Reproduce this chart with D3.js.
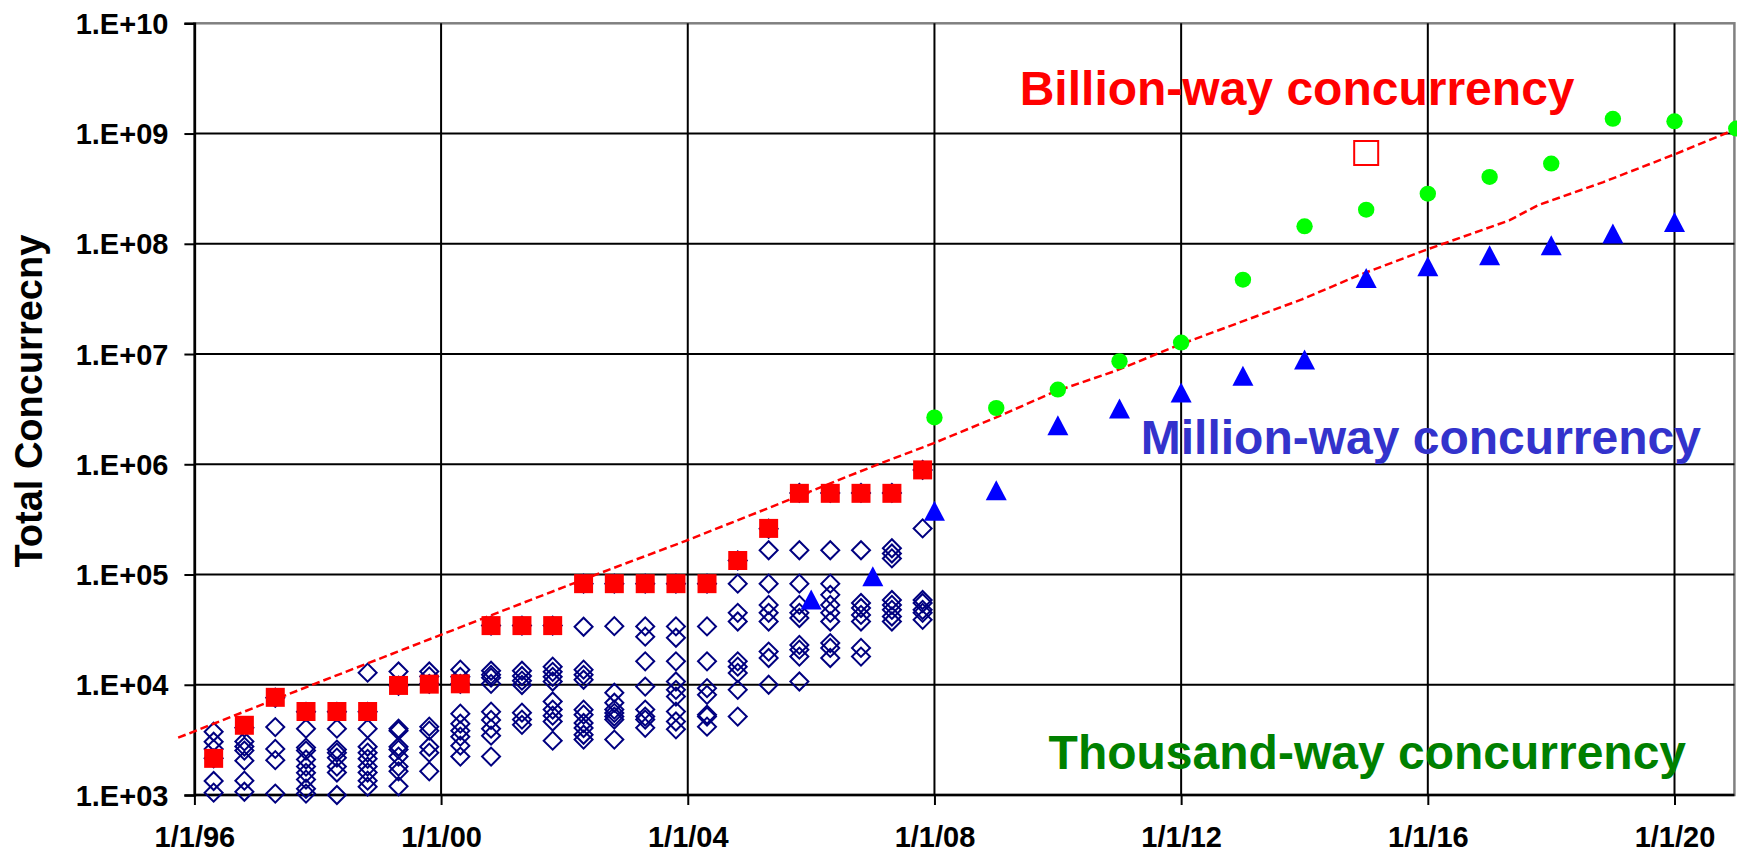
<!DOCTYPE html>
<html><head><meta charset="utf-8">
<script src="https://cdn.jsdelivr.net/npm/d3@7"></script>
<style>
body{margin:0;background:#fff;}
svg{display:block;}
text{font-family:"Liberation Sans",Arial,Helvetica,sans-serif;font-weight:bold;}
</style>
</head><body>
<svg id="chart" width="1737" height="853"></svg>
<script>
// ---------- DATA ----------
const xTickDates  = ["1996-01-01","2000-01-01","2004-01-01","2008-01-01","2012-01-01","2016-01-01","2020-01-01"];
const xTickLabels = ["1/1/96","1/1/00","1/1/04","1/1/08","1/1/12","1/1/16","1/1/20"];
const yTickValues = [1e3,1e4,1e5,1e6,1e7,1e8,1e9,1e10];
const yTickLabels = ["1.E+03","1.E+04","1.E+05","1.E+06","1.E+07","1.E+08","1.E+09","1.E+10"];

// list dates (twice a year)
const listDates = ["1996-04-24","1996-10-23","1997-04-24","1997-10-23","1998-04-24","1998-10-23",
  "1999-04-24","1999-10-23","2000-04-24","2000-10-23","2001-04-24","2001-10-23",
  "2002-04-24","2002-10-23","2003-04-24","2003-10-23","2004-04-24","2004-10-23",
  "2005-04-24","2005-10-23","2006-04-24","2006-10-23","2007-04-24","2007-10-23"];

// top system per list (red filled squares)
const topSystem = [2150,4290,7690,5720,5720,5720,9860,10130,10200,34400,34400,34400,
  82600,82600,82600,82600,82600,134000,262000,545000,545000,545000,545000,889000];

// top-ten systems per list (navy open diamonds)
const topTen = [
  [3750,3040,2610,2150,1340,1050],
  [4080,3060,2750,2530,2050,1350,1070],
  [7620,4130,2620,2070,1030],
  [5680,4000,2690,2530,2100,1810,1590,1380,1140,1030],
  [5680,4000,2580,2420,2180,1810,1600,1000],
  [12880,5680,4000,2740,2420,2130,1810,1600,1350,1190],
  [13200,9800,4000,3830,2740,2580,2230,1810,1640,1200],
  [13200,11900,10200,4170,3830,2740,2420,1640],
  [13700,11800,10200,5470,4440,3830,3380,2800,2230],
  [34400,13400,12300,11600,10200,5700,4800,4000,3450,2230],
  [34400,13400,12000,10900,9950,5580,4830,4330],
  [34400,14600,13100,11800,10700,7050,5950,5240,4640,3110],
  [82600,33600,13700,12300,11100,5940,5350,4500,4050,3520,3180],
  [82600,34000,8460,6870,5950,5550,5140,4830,3180],
  [82600,33800,27300,16300,9620,5950,5140,4830,4070],
  [82600,33800,26700,16300,10700,9000,7810,5710,4640,3940],
  [82600,33800,16300,9320,8100,5350,5140,4170],
  [134000,82600,44900,37500,16300,14600,12800,9000,5140],
  [260000,166000,82600,53000,44900,37500,20000,17500,10000],
  [550000,166000,82600,53000,44900,40300,23000,20800,18000,10700],
  [550000,166000,82600,65400,53000,44900,37500,23900,21600,17500],
  [550000,166000,55200,49700,43000,37500,21600,18000],
  [550000,173000,155000,140000,58700,53000,47800,41600,37500],
  [889000,262000,58700,55200,47800,44900,38800]
];

// projection: million-way (blue triangles)
const millionDates  = ["2006-01-01","2007-01-01","2008-01-01","2009-01-01","2010-01-01","2011-01-01","2012-01-01","2013-01-01",
  "2014-01-01","2015-01-01","2016-01-01","2017-01-01","2018-01-01","2019-01-01","2020-01-01"];
const millionValues = [59400,96600,378000,582000,2.26e6,3.2e6,4.48e6,6.34e6,8.9e6,4.9e7,6.25e7,7.87e7,9.7e7,1.24e8,1.58e8];

// projection: billion-way (green circles)
const billionDates  = ["2008-01-01","2009-01-01","2010-01-01","2011-01-01","2012-01-01","2013-01-01","2014-01-01",
  "2015-01-01","2016-01-01","2017-01-01","2018-01-01","2019-01-01","2020-01-01","2021-01-01"];
const billionValues = [2.66e6,3.24e6,4.76e6,8.6e6,1.27e7,4.73e7,1.44e8,2.04e8,2.85e8,4.04e8,5.34e8,1.36e9,1.29e9,1.11e9];

// single open red square
const exaDates  = ["2015-01-01"];
const exaValues = [6.65e8];

// trend (red dashed line)
const trendDates  = ["1995-09-27","1997-11-10","1999-04-19","2000-10-26","2002-07-30","2003-12-20","2005-08-28",
  "2007-02-13","2007-12-24","2009-01-22","2009-12-09","2010-12-09","2011-12-13","2013-12-16","2014-11-17",
  "2015-12-25","2017-04-27","2017-10-12","2018-11-06","2020-01-01","2021-01-01"];
const trendValues = [3310,9730,19950,42850,103000,202000,479000,1.016e6,1.545e6,2.75e6,4.53e6,7.03e6,1.20e7,
  3.13e7,5.18e7,8.85e7,1.63e8,2.23e8,3.63e8,6.47e8,1.10e9];

const annotations = [
  {text:"Billion-way concurrency",  date:"2009-05-20", value:1.8e9, color:"#FF0000"},
  {text:"Million-way concurrency",  date:"2011-05-07", value:1.24e6, color:"#3333CC"},
  {text:"Thousand-way concurrency", date:"2009-11-07", value:1.72e3, color:"#008000"}
];

// ---------- CHART ----------
const parse = d3.utcParse("%Y-%m-%d");
const L = 194.4, R = 1734.4, T = 23.3, B = 795;
const svg = d3.select("#chart");

const x = d3.scaleUtc().domain([parse("1996-01-01"), parse("2020-01-01")]).range([L, 1674.5]);
const y = d3.scaleLog().domain([1e3, 1e10]).range([B, T]);

// plot border (gray)
svg.append("rect").attr("x", L).attr("y", T).attr("width", R - L).attr("height", B - T)
  .attr("fill", "none").attr("stroke", "#808080").attr("stroke-width", 2.5);

// y axis + horizontal gridlines
const yAxis = d3.axisLeft(y).tickValues(yTickValues).tickSize(10).tickFormat((d,i)=>yTickLabels[i]);
const gy = svg.append("g").attr("transform", `translate(${L},0)`).call(yAxis);
gy.select(".domain").attr("stroke","#000").attr("stroke-width",2.5);
gy.selectAll(".tick line").attr("stroke","#000").attr("stroke-width",2);
gy.selectAll(".tick text").attr("font-size", 29).attr("x", -26).attr("dy","0.35em").attr("fill","#000")
  .style("font-family",'"Liberation Sans",Arial,sans-serif').style("font-weight","bold");
svg.append("g").selectAll("line").data(yTickValues.filter(v => v > 1e3 && v < 1e10)).join("line")
  .attr("x1", L).attr("x2", R).attr("y1", d => y(d)).attr("y2", d => y(d))
  .attr("stroke", "#000").attr("stroke-width", 2);

// vertical gridlines + x axis
const xDates = xTickDates.map(parse);
svg.append("g").selectAll("line").data(xDates.slice(1)).join("line")
  .attr("x1", d => x(d)).attr("x2", d => x(d)).attr("y1", T).attr("y2", B)
  .attr("stroke", "#000").attr("stroke-width", 2);
const xAxis = d3.axisBottom(x).tickValues(xDates).tickSize(10).tickFormat((d,i)=>xTickLabels[i]);
const gx = svg.append("g").attr("transform", `translate(0,${B})`).call(xAxis);
gx.select(".domain").attr("d", `M${L},0H${R}`).attr("stroke","#000").attr("stroke-width",2.5);
gx.selectAll(".tick line").attr("stroke","#000").attr("stroke-width",2);
gx.selectAll(".tick text").attr("font-size", 29).attr("y", 31).attr("dy","0.71em").attr("fill","#000")
  .style("font-family",'"Liberation Sans",Arial,sans-serif').style("font-weight","bold");

// y title
svg.append("text").attr("transform", `translate(42,${(T + B) / 2 - 8}) rotate(-90)`)
  .attr("text-anchor", "middle").attr("font-size", 38).attr("fill", "#000").text("Total Concurrecny");

// diamonds
const diamondData = [];
listDates.forEach((d, i) => topTen[i].forEach(v => diamondData.push({d: parse(d), v})));
const diamond = d3.symbol().type(d3.symbolSquare).size(162)();
svg.append("g").selectAll("path").data(diamondData).join("path")
  .attr("d", diamond)
  .attr("transform", p => `translate(${x(p.d)},${y(p.v)}) rotate(45)`)
  .attr("fill", "none").attr("stroke", "#000080").attr("stroke-width", 2);

// red filled squares
const sq = d3.symbol().type(d3.symbolSquare).size(19 * 19)();
svg.append("g").selectAll("path").data(listDates.map((d, i) => ({d: parse(d), v: topSystem[i]}))).join("path")
  .attr("d", sq).attr("transform", p => `translate(${x(p.d)},${y(p.v)})`).attr("fill", "#FF0000");

// trend line
const line = d3.line().x(p => x(p.d)).y(p => y(p.v));
svg.append("path").datum(trendDates.map((d, i) => ({d: parse(d), v: trendValues[i]})))
  .attr("d", line).attr("fill", "none").attr("stroke", "#FF0000").attr("stroke-width", 2.5)
  .attr("stroke-dasharray", "8,4");

// triangles
svg.append("g").selectAll("path").data(millionDates.map((d, i) => ({d: parse(d), v: millionValues[i]}))).join("path")
  .attr("d", "M0,-10L10.5,10L-10.5,10Z")
  .attr("transform", p => `translate(${x(p.d)},${y(p.v)})`).attr("fill", "#0000FF");

// green circles
svg.append("g").selectAll("ellipse").data(billionDates.map((d, i) => ({d: parse(d), v: billionValues[i]}))).join("ellipse")
  .attr("cx", p => x(p.d)).attr("cy", p => y(p.v)).attr("rx", 8.2).attr("ry", 8).attr("fill", "#00FF00");

// open red square
const osq = d3.symbol().type(d3.symbolSquare).size(24 * 24)();
svg.append("g").selectAll("path").data(exaDates.map((d, i) => ({d: parse(d), v: exaValues[i]}))).join("path")
  .attr("d", osq).attr("transform", p => `translate(${x(p.d)},${y(p.v)})`)
  .attr("fill", "none").attr("stroke", "#FF0000").attr("stroke-width", 2);

// annotations
svg.append("g").selectAll("text").data(annotations).join("text")
  .attr("x", a => x(parse(a.date))).attr("y", a => y(a.value))
  .attr("font-size", 48).attr("fill", a => a.color).text(a => a.text);
</script>
</body></html>
